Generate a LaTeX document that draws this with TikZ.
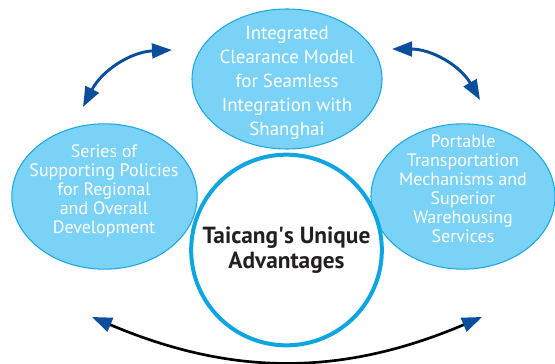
\documentclass[tikz,border=0pt]{standalone}
\usepackage{fontspec}
\setmainfont{PT Sans}
\usetikzlibrary{arrows.meta, shapes.geometric}

\definecolor{bubblefill}{HTML}{7AD2F6}
\definecolor{bubbleline}{HTML}{1BA8E0}
\definecolor{hubline}{HTML}{0EA5E0}
\definecolor{arrowblue}{HTML}{0B4F9C}
\definecolor{hubtext}{HTML}{231F20}

\begin{document}
\begin{tikzpicture}[
    x=0.75pt, y=0.75pt,
    bubble/.style={ellipse, draw=bubbleline, fill=bubblefill, line width=0.8pt, inner sep=0pt},
    bubbletext/.style={align=center, text=white, font=\fontsize{13.5}{14.2}\selectfont},
    hub/.style={circle, draw=hubline, line width=3pt, minimum size=143pt, inner sep=0pt},
    link/.style={{Triangle[length=15pt, width=11pt]}-{Triangle[length=15pt, width=11pt]}, line width=2.2pt, draw=arrowblue},
    loop/.style={{Triangle[length=15pt, width=11pt, color=arrowblue]}-{Triangle[length=15pt, width=11pt, color=arrowblue]}, line width=2pt, draw=black}
]
\useasboundingbox (0,0) rectangle (555,363);

% Bubbles
\node[bubble, minimum width=142.5pt, minimum height=105pt] (clearance) at (287,284) {};
\node[bubble, minimum width=139pt, minimum height=109pt] (policies) at (104.5,166.5) {};
\node[bubble, minimum width=138pt, minimum height=109pt] (transport) at (463,166.5) {};

\node[bubbletext, font=\fontsize{14.2}{18}\selectfont] (clearanceText) at (287,280) {Integrated\\ Clearance Model\\ for Seamless\\ Integration with\\ Shanghai};
\node[bubbletext] (policiesText) at (104,172) {Series of\\ Supporting Policies\\ for Regional\\ and Overall\\ Development};
\node[bubbletext] (transportText) at (463,174) {Portable\\ Transportation\\ Mechanisms and\\ Superior\\ Warehousing\\ Services};

% Hub
\node[hub, align=center, text=hubtext, font=\bfseries\fontsize{17.5}{19}\selectfont] (hub) at (286.5,113) {Taicang\textquotesingle s Unique\\ Advantages};

% Arrows
\coordinate (tlA) at (83,256);
\coordinate (tlB) at (172,313);
\coordinate (trA) at (392,314);
\coordinate (trB) at (480,263);
\coordinate (btA) at (92,46);
\coordinate (btB) at (482,46);

\draw[link] (tlA) to[bend left=30] (tlB);
\draw[link] (trA) to[bend left=30] (trB);
\draw[loop] (btA) to[bend right=23] (btB);
\end{tikzpicture}
\end{document}
